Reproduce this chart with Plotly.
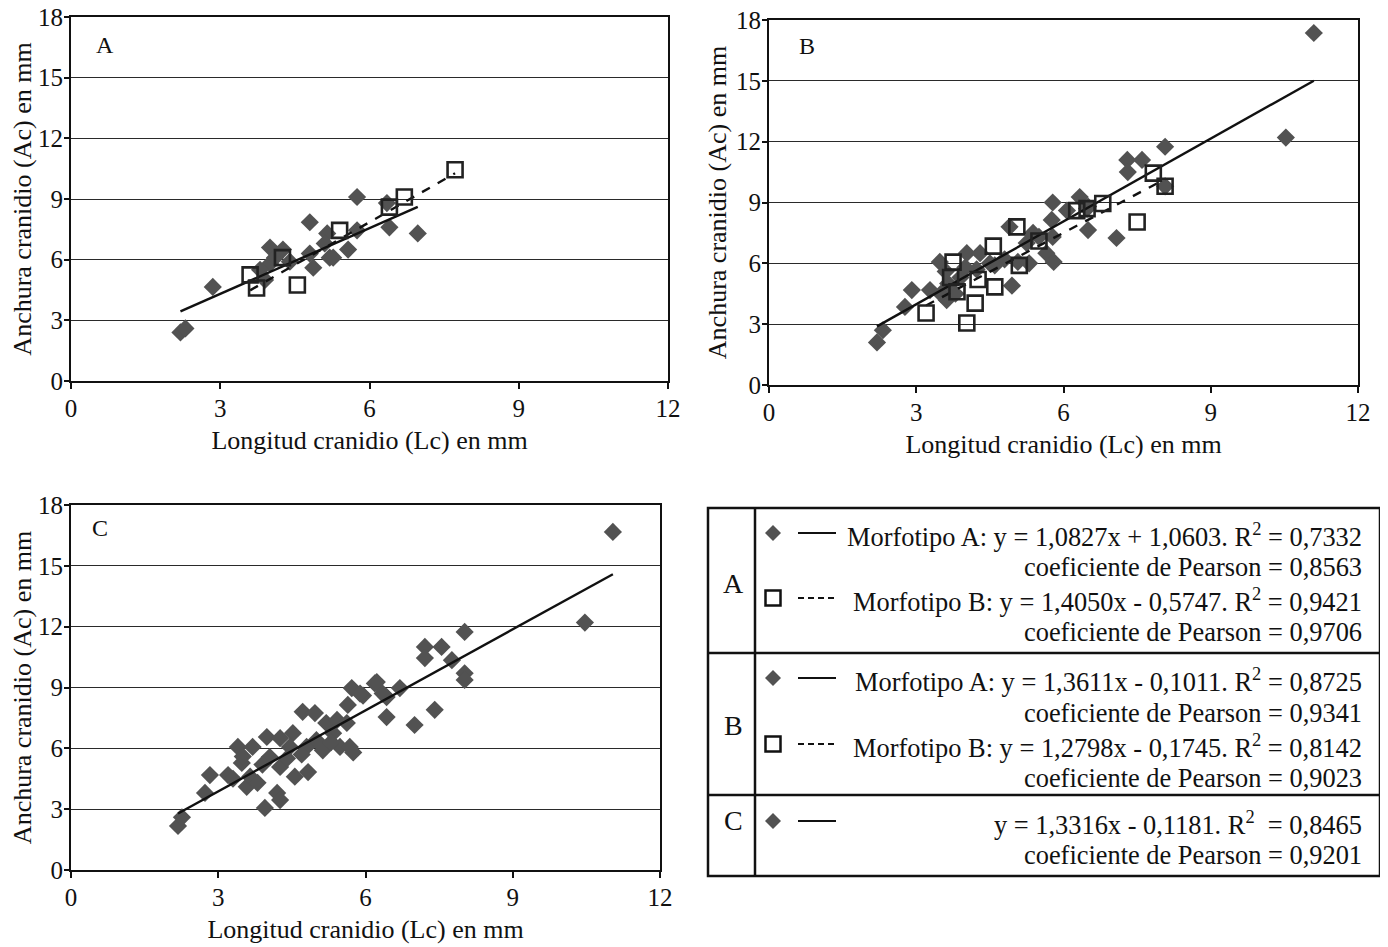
import plotly.graph_objects as go

# ---------------- data ----------------
# Panel A
a_morfA_x = [2.2, 2.3, 2.85, 4.0, 4.26, 4.0, 3.8, 4.1, 4.8, 4.87, 5.2, 5.75, 4.8, 5.15, 5.75, 5.57, 5.27, 6.4, 6.97, 6.35, 5.1, 4.4, 3.9]
a_morfA_y = [2.4, 2.6, 4.65, 6.6, 6.5, 5.8, 5.5, 6.1, 6.3, 5.6, 6.1, 9.1, 7.85, 7.3, 7.45, 6.5, 6.1, 7.6, 7.3, 8.8, 6.8, 5.9, 5.0]
a_morfB_x = [7.72, 6.7, 5.4, 4.25, 3.6, 3.73, 4.55, 6.4]
a_morfB_y = [10.45, 9.1, 7.45, 6.1, 5.25, 4.6, 4.75, 8.6]
a_fitA = (1.0827, 1.0603)
a_fitB = (1.4050, -0.5747)

# Panel B
b_morfA_x = [2.2, 2.32, 2.77, 2.91, 3.28, 3.48, 3.62, 3.65, 4.03, 4.3, 4.23, 3.9, 4.5, 4.9, 4.8, 5.07, 4.95, 5.3, 5.25, 5.5,
             5.65, 5.8, 5.78, 5.76, 5.78, 6.07, 6.33, 6.5, 6.5, 7.08, 7.3, 7.31, 7.6, 8.07, 8.07, 10.53, 11.1,
             3.6, 3.8, 4.6, 4.0, 3.5, 5.38, 6.48]
b_morfA_y = [2.1, 2.7, 3.85, 4.68, 4.68, 6.07, 4.19, 5.0, 6.5, 6.5, 5.7, 5.3, 6.0, 7.8, 6.2, 6.07, 4.9, 6.0, 7.0, 7.3,
             6.5, 6.07, 7.3, 8.14, 9.0, 8.6, 9.27, 8.8, 7.64, 7.25, 11.1, 10.5, 11.1, 11.75, 9.8, 12.2, 17.36,
             5.6, 4.5, 5.9, 5.8, 4.5, 7.5, 8.7]
b_morfB_x = [3.2, 4.03, 4.2, 3.75, 4.26, 4.57, 4.6, 5.05, 5.5, 6.8, 7.5, 7.83, 5.1, 3.83, 6.27, 8.07, 6.48, 3.7]
b_morfB_y = [3.55, 3.06, 4.04, 6.06, 5.2, 6.85, 4.84, 7.8, 7.1, 8.95, 8.04, 10.45, 5.9, 4.6, 8.6, 9.8, 8.7, 5.3]
b_fitA = (1.3611, -0.1011)
b_fitB = (1.2798, -0.1745)

# Panel C
c_x = [2.18, 2.26, 2.73, 2.83, 3.2, 3.4, 3.48, 3.58, 3.7, 3.65, 3.99, 3.95, 4.2, 4.26, 4.26, 4.26, 4.05, 4.52, 4.46, 4.56,
       4.83, 4.72, 4.97, 4.8, 5.0, 5.2, 5.13, 5.34, 5.42, 5.48, 5.68, 5.75, 5.62, 5.64, 5.72, 5.95, 6.19, 6.23, 6.43, 6.7,
       6.43, 7.0, 7.41, 7.21, 7.21, 7.55, 7.76, 8.02, 8.02, 8.02, 5.89, 10.47, 11.04,
       3.5, 3.9, 4.4, 3.8, 4.7, 5.3, 6.35, 3.3]
c_y = [2.17, 2.6, 3.8, 4.68, 4.68, 6.07, 5.28, 4.1, 6.07, 4.6, 6.56, 3.06, 3.8, 3.45, 6.5, 5.08, 5.57, 6.75, 6.07, 4.6,
       4.83, 7.8, 7.74, 6.07, 6.4, 7.25, 5.9, 6.75, 7.4, 6.07, 6.07, 5.8, 7.25, 8.14, 8.97, 8.6, 9.2, 9.27, 8.53, 8.97,
       7.54, 7.15, 7.9, 11.0, 10.45, 11.0, 10.35, 11.74, 9.7, 9.37, 8.7, 12.2, 16.67,
       5.6, 5.2, 5.5, 4.3, 5.7, 6.3, 8.7, 4.5]
c_fit = (1.3316, -0.1181)

x_ticks = [0, 3, 6, 9, 12]
y_ticks = [0, 3, 6, 9, 12, 15, 18]
x_title = "Longitud cranidio (Lc) en mm"
y_title = "Anchura cranidio (Ac) en mm"
panel_labels = ["A", "B", "C"]

table_rows = [
    ("A", [("Morfotipo A: y = 1,0827x + 1,0603. R<sup>2</sup> = 0,7332", "coeficiente de Pearson = 0,8563", "diamond", "solid"),
           ("Morfotipo B: y = 1,4050x - 0,5747. R<sup>2</sup> = 0,9421", "coeficiente de Pearson = 0,9706", "square", "dash")]),
    ("B", [("Morfotipo A: y = 1,3611x - 0,1011. R<sup>2</sup> = 0,8725", "coeficiente de Pearson = 0,9341", "diamond", "solid"),
           ("Morfotipo B: y = 1,2798x - 0,1745. R<sup>2</sup> = 0,8142", "coeficiente de Pearson = 0,9023", "square", "dash")]),
    ("C", [("y = 1,3316x - 0,1181. R<sup>2</sup>  = 0,8465", "coeficiente de Pearson = 0,9201", "diamond", "solid")]),
]

# ---------------- figure ----------------
W, H = 1388, 947
OFF = 8  # default page margin of the HTML body
FONT = "Liberation Serif"
INK = "#111111"
DIAM = "#525252"

fig = go.Figure()


def px_x(p):
    return (p - OFF) / W


def px_y(p):
    return 1 - (p - OFF) / H


def diamonds(x, y, ax):
    fig.add_trace(go.Scatter(x=x, y=y, mode="markers", xaxis=ax[0], yaxis=ax[1],
                             marker=dict(symbol="diamond", size=14, color=DIAM, line=dict(width=0)),
                             showlegend=False, hoverinfo="skip"))


def squares(x, y, ax):
    fig.add_trace(go.Scatter(x=x, y=y, mode="markers", xaxis=ax[0], yaxis=ax[1],
                             marker=dict(symbol="square-open", size=15, color="#222222", line=dict(width=2.6)),
                             showlegend=False, hoverinfo="skip"))


def fitline(fit, xs, ax, dash):
    x0, x1 = min(xs), max(xs)
    m, b = fit
    fig.add_trace(go.Scatter(x=[x0, x1], y=[m * x0 + b, m * x1 + b], mode="lines", xaxis=ax[0], yaxis=ax[1],
                             line=dict(color=INK, width=2.4, dash=dash),
                             showlegend=False, hoverinfo="skip"))


axA = ("x", "y")
axB = ("x2", "y2")
axC = ("x3", "y3")

# Panel A
diamonds(a_morfA_x, a_morfA_y, axA)
fitline(a_fitA, a_morfA_x, axA, "solid")
fitline(a_fitB, a_morfB_x, axA, "dash")
squares(a_morfB_x, a_morfB_y, axA)
# Panel B
diamonds(b_morfA_x, b_morfA_y, axB)
fitline(b_fitA, b_morfA_x, axB, "solid")
fitline(b_fitB, b_morfB_x, axB, "dash")
squares(b_morfB_x, b_morfB_y, axB)
# Panel C
diamonds(c_x, c_y, axC)
fitline(c_fit, c_x, axC, "solid")

domains = {
    "A": ([71, 668], [17, 381]),
    "B": ([769, 1358], [20, 385]),
    "C": ([71, 660], [505, 870]),
}

TICKSIZE = 25
TITLESIZE = 26


def axis_x(dom, anchor):
    return dict(domain=[px_x(dom[0]), px_x(dom[1])], range=[0, 12], tickvals=x_ticks, showgrid=False,
                zeroline=False, showline=True, mirror=True, linecolor=INK, linewidth=2,
                ticks="outside", ticklen=6, tickwidth=1.6, tickcolor=INK, automargin=False,
                ticklabelstandoff=-2, ticklabeloverflow="allow",
                tickfont=dict(family=FONT, size=TICKSIZE, color=INK), anchor=anchor,
                title=dict(text=x_title, font=dict(family=FONT, size=TITLESIZE, color=INK), standoff=10))


def axis_y(dom, anchor):
    return dict(domain=[px_y(dom[1]), px_y(dom[0])], range=[0, 18], tickvals=y_ticks, showgrid=True,
                gridcolor="#2a2a2a", gridwidth=1.3, zeroline=False, showline=True, mirror=True,
                linecolor=INK, linewidth=2, ticks="outside", ticklen=5, tickwidth=1.6, tickcolor=INK,
                automargin=False, ticklabelstandoff=-4, ticklabeloverflow="allow",
                tickfont=dict(family=FONT, size=TICKSIZE, color=INK), anchor=anchor,
                title=dict(text=y_title, font=dict(family=FONT, size=TITLESIZE, color=INK), standoff=2))


annotations = []
shapes = []

# panel letters
for lab, (xp, yp) in zip(panel_labels, [(94, 45), (797, 46), (90, 528)]):
    annotations.append(dict(text=lab, x=px_x(xp), y=px_y(yp), xref="paper", yref="paper", showarrow=False,
                            xanchor="left", yanchor="middle", font=dict(family=FONT, size=24, color=INK)))

# table frame
T_L, T_R, T_T, T_B = 708, 1380, 508, 876
COL = 755
row_bounds = [(508, 653), (653, 795), (795, 876)]
shapes.append(dict(type="rect", xref="paper", yref="paper", x0=px_x(T_L), x1=px_x(T_R), y0=px_y(T_B), y1=px_y(T_T),
                   line=dict(color=INK, width=2.5)))
shapes.append(dict(type="line", xref="paper", yref="paper", x0=px_x(COL), x1=px_x(COL), y0=px_y(T_B), y1=px_y(T_T),
                   line=dict(color=INK, width=2.5)))
for (_, bot) in row_bounds[:-1]:
    shapes.append(dict(type="line", xref="paper", yref="paper", x0=px_x(T_L), x1=px_x(T_R), y0=px_y(bot), y1=px_y(bot),
                       line=dict(color=INK, width=2.5)))

line_y = {"A": [535, 567, 600, 632], "B": [680, 713, 746, 778], "C": [823, 855]}
label_y = {"A": 583, "B": 725, "C": 820}
SYM_X = 773
TXT_SIZE = 26.4

for (lab, entries) in table_rows:
    annotations.append(dict(text=lab, x=px_x(733), y=px_y(label_y[lab]), xref="paper", yref="paper", showarrow=False,
                            xanchor="center", yanchor="middle", font=dict(family=FONT, size=28, color=INK)))
    ys = line_y[lab]
    for i, (t1, t2, sym, dash) in enumerate(entries):
        y1 = ys[2 * i]
        y2 = ys[2 * i + 1]
        annotations.append(dict(text=t1, x=px_x(1364), y=px_y(y1), xref="paper", yref="paper", showarrow=False,
                                xanchor="right", yanchor="middle", font=dict(family=FONT, size=TXT_SIZE, color=INK)))
        annotations.append(dict(text=t2, x=px_x(1364), y=px_y(y2), xref="paper", yref="paper", showarrow=False,
                                xanchor="right", yanchor="middle", font=dict(family=FONT, size=TXT_SIZE, color=INK)))
        sy = y1 - 2
        if sym == "diamond":
            r = 8
            path = "M {a},{b} L {c},{d} L {e},{f} L {g},{h} Z".format(
                a=px_x(SYM_X - r), b=px_y(sy), c=px_x(SYM_X), d=px_y(sy - r),
                e=px_x(SYM_X + r), f=px_y(sy), g=px_x(SYM_X), h=px_y(sy + r))
            shapes.append(dict(type="path", xref="paper", yref="paper", path=path,
                               fillcolor=DIAM, line=dict(width=0)))
        else:
            r = 7.5
            shapes.append(dict(type="rect", xref="paper", yref="paper",
                               x0=px_x(SYM_X - r), x1=px_x(SYM_X + r), y0=px_y(sy + r), y1=px_y(sy - r),
                               line=dict(color=INK, width=2.5)))
        shapes.append(dict(type="line", xref="paper", yref="paper", x0=px_x(798), x1=px_x(836),
                           y0=px_y(sy), y1=px_y(sy),
                           line=dict(color=INK, width=2, dash="solid" if dash == "solid" else "6px,4px")))

fig.update_layout(
    width=W, height=H, margin=dict(l=0, r=0, t=0, b=0),
    paper_bgcolor="white", plot_bgcolor="white",
    xaxis=axis_x(domains["A"][0], "y"), yaxis=axis_y(domains["A"][1], "x"),
    xaxis2=axis_x(domains["B"][0], "y2"), yaxis2=axis_y(domains["B"][1], "x2"),
    xaxis3=axis_x(domains["C"][0], "y3"), yaxis3=axis_y(domains["C"][1], "x3"),
    showlegend=False,
    annotations=annotations, shapes=shapes,
)

fig.write_html("out.html")
